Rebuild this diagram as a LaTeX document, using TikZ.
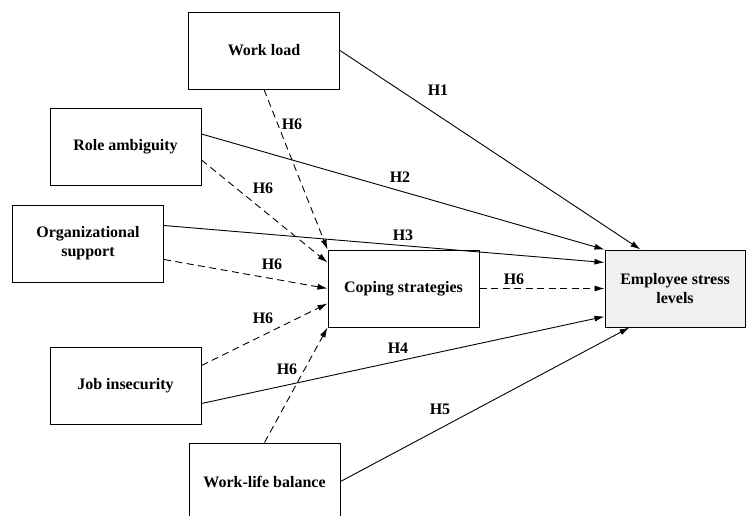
\documentclass[tikz,border=0pt]{standalone}
\usepackage{fontspec}
\setmainfont{Liberation Serif}
\usetikzlibrary{arrows.meta}
\begin{document}
\begin{tikzpicture}[x=1pt,y=-1pt,
    var/.style={draw,line width=1pt,minimum width=151pt,minimum height=77pt,align=center,
      font=\fontsize{16}{19}\selectfont\bfseries},
    path/.style={line width=0.9pt,-{Latex[length=10pt,width=6pt]}},
    med/.style={path,dash pattern=on 7pt off 4.5pt},
    hyp/.style={font=\fontsize{16}{19}\selectfont\bfseries,inner sep=1pt}]
  \useasboundingbox (0,0) rectangle (746,515);
  % variables
  \node[var] (wl) at (264,50.5) {Work load};
  \node[var] (ra) at (125.5,147) {Role ambiguity};
  \node[var] (os) at (88,243.5) {Organizational\\support};
  \node[var] (ji) at (125.5,385.5) {Job insecurity};
  \node[var] (wlb) at (264.5,481.5) {Work-life balance};
  \node[var] (cs) at (403.5,288.5) {Coping strategies};
  \node[var,minimum width=140pt,fill={rgb,255:red,240;green,240;blue,240}] (esl) at (675,288.5) {Employee stress\\levels};
  % direct effects
  \draw[path] (wl.east) -- ([xshift=36pt]esl.north west);
  \draw[path] ([yshift=13pt]ra.east) -- (esl.north west);
  \draw[path] ([yshift=18pt]os.east) -- ([yshift=26pt]esl.west);
  \draw[path] ([yshift=-18pt]ji.east) -- ([yshift=-28pt]esl.west);
  \draw[path] (wlb.east) -- ([xshift=25pt]esl.south west);
  % mediation
  \draw[med] (wl.south) -- (cs.north west);
  \draw[med] ([yshift=-13pt]ra.east) -- ([yshift=26pt]cs.west);
  \draw[med] ([yshift=-16pt]os.east) -- (cs.west);
  \draw[med] ([yshift=20pt]ji.east) -- ([yshift=-15pt]cs.west);
  \draw[med] (wlb.north) -- (cs.south west);
  \draw[med] (cs.east) -- (esl.west);
  % labels
  \node[hyp] (h1) at (438,90) {H1};
  \node[hyp] (h2) at (400,177) {H2};
  \node[hyp] (h3) at (403,235) {H3};
  \node[hyp] (h4) at (398,348) {H4};
  \node[hyp] (h5) at (440,409) {H5};
  \node[hyp] (h6a) at (292,124) {H6};
  \node[hyp] (h6b) at (263,188) {H6};
  \node[hyp] (h6c) at (272,264) {H6};
  \node[hyp] (h6d) at (263,318) {H6};
  \node[hyp] (h6e) at (287,369) {H6};
  \node[hyp] (h6f) at (514,279) {H6};
\end{tikzpicture}
\end{document}
